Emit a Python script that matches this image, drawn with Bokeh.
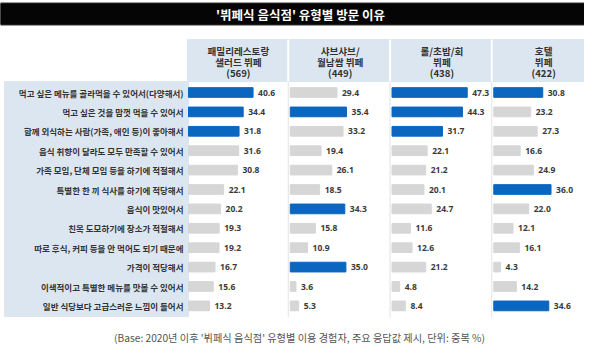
from bokeh.plotting import figure
from bokeh.models import ColumnDataSource, Range1d
from bokeh.core.properties import value
from bokeh.embed import file_html
from bokeh.resources import INLINE

# ---------------- data ----------------
title = "'뷔페식 음식점' 유형별 방문 이유"
footnote = "(Base: 2020년 이후 '뷔페식 음식점' 유형별 이용 경험자, 주요 응답값 제시, 단위: 중복 %)"

reasons = [
    "먹고 싶은 메뉴를 골라먹을 수 있어서(다양해서)",
    "먹고 싶은 것을 맘껏 먹을 수 있어서",
    "함께 외식하는 사람(가족, 애인 등)이 좋아해서",
    "음식 취향이 달라도 모두 만족할 수 있어서",
    "가족 모임, 단체 모임 등을 하기에 적절해서",
    "특별한 한 끼 식사를 하기에 적당해서",
    "음식이 맛있어서",
    "친목 도모하기에 장소가 적절해서",
    "따로 후식, 커피 등을 안 먹어도 되기 때문에",
    "가격이 적당해서",
    "이색적이고 특별한 메뉴를 맛볼 수 있어서",
    "일반 식당보다 고급스러운 느낌이 들어서",
]

col_names = [
    ["패밀리레스토랑", "샐러드 뷔페"],
    ["샤브샤브/", "월남쌈 뷔페"],
    ["롤/초밥/회", "뷔페"],
    ["호텔", "뷔페"],
]
col_n = [569, 449, 438, 422]

family = [40.6, 34.4, 31.8, 31.6, 30.8, 22.1, 20.2, 19.3, 19.2, 16.7, 15.6, 13.2]
shabu = [29.4, 35.4, 33.2, 19.4, 26.1, 18.5, 34.3, 15.8, 10.9, 35.0, 3.6, 5.3]
sushi = [47.3, 44.3, 31.7, 22.1, 21.2, 20.1, 24.7, 11.6, 12.6, 21.2, 4.8, 8.4]
hotel = [30.8, 23.2, 27.3, 16.6, 24.9, 36.0, 22.0, 12.1, 16.1, 4.3, 14.2, 34.6]
series = [family, shabu, sushi, hotel]
TOP_N = 3  # top answers per type are highlighted

# ---------------- layout ----------------
W, H = 584, 344
K = 1.59          # px per percentage point
ROW = 19.4        # px per row
PITCH = 64.0      # column pitch in percentage units
X_START = -188 / K
X_END = X_START + W / K
Y_TOP = -92 / ROW
Y_BOT = Y_TOP + H / ROW


def dx(px):
    return X_START + px / K


def dy(py):
    return Y_TOP + py / ROW


BLUE = "#0b66c0"
GREY = "#d6d6d6"
PANEL = "#dce6f1"
FONT = value("Noto Sans CJK KR")

p = figure(width=W, height=H, x_range=Range1d(X_START, X_END),
           y_range=Range1d(Y_BOT, Y_TOP), output_backend="svg",
           toolbar_location=None, x_axis_type=None, y_axis_type=None,
           min_border=0)
p.grid.visible = False
p.outline_line_color = None
p.background_fill_color = "white"
p.border_fill_color = "white"

# title bar
p.quad(left=dx(0), right=dx(600), top=dy(2), bottom=dy(25), color="#9a9a9a")
p.quad(left=dx(0), right=dx(600), top=dy(3.2), bottom=dy(23.8), color="#050505")
p.text(x=[dx(300)], y=[dy(13.8)], text=[title], text_align="center",
       text_baseline="middle", text_font=FONT, text_font_size="12.5px",
       text_font_style="bold", text_color="white")

# header box and left panel
p.quad(left=dx(187), right=dx(593), top=dy(39), bottom=dy(81), color=PANEL)
p.quad(left=dx(4), right=dx(188), top=dy(81), bottom=dy(316), color=PANEL)

offsets = [i * PITCH for i in range(len(series))]
div_x = [o - 2 / K for o in offsets[1:]] + [dx(593)]
p.segment(x0=div_x, x1=div_x, y0=[dy(81)] * len(div_x), y1=[dy(317)] * len(div_x),
          line_color="#e3e3e3", line_width=1)
p.segment(x0=div_x[:-1], x1=div_x[:-1], y0=[dy(39)] * 3, y1=[dy(81)] * 3,
          line_color="white", line_width=2)

# header texts
hx, hy, ht = [], [], []
for i, (names, n) in enumerate(zip(col_names, col_n)):
    lines = names + ["(%d)" % n]
    cx = offsets[i] + (PITCH - 2 / K) / 2
    for j, line in enumerate(lines):
        hx.append(cx)
        hy.append(dy(50 + 11 * j))
        ht.append(line)
p.text(x=hx, y=hy, text=ht, text_align="center", text_baseline="middle",
       text_font=FONT, text_font_size="9.6px", text_font_style="bold",
       text_color="#333333")

# row labels
rows = list(range(len(reasons)))
p.text(x=[dx(183)] * len(rows), y=rows, text=reasons, text_align="right",
       text_baseline="middle", text_font=FONT, text_font_size="8.5px",
       text_font_style="bold", text_color="#333333")

# bars
ys, lefts, rights, cols, labs = [], [], [], [], []
for i, vals in enumerate(series):
    top = sorted(vals, reverse=True)[:TOP_N]
    for r, v in enumerate(vals):
        ys.append(r)
        lefts.append(offsets[i])
        rights.append(offsets[i] + v)
        cols.append(BLUE if v in top else GREY)
        labs.append("%.1f" % v)
src = ColumnDataSource(dict(y=ys, left=lefts, right=rights, color=cols, label=labs))
p.hbar(y="y", left="left", right="right", height=0.5, color="color", source=src)
p.text(x="right", y="y", text="label", x_offset=5, text_align="left",
       text_baseline="middle", text_font=value("Open Sans"), text_font_size="8.5px",
       text_font_style="bold", text_color="#3a3a3a", source=src)

# footnote
p.text(x=[dx(299)], y=[dy(337)], text=[footnote], text_align="center",
       text_baseline="middle", text_font=FONT, text_font_size="10.2px",
       text_color="#555555")

open("out.html", "w").write(file_html(p, INLINE))
